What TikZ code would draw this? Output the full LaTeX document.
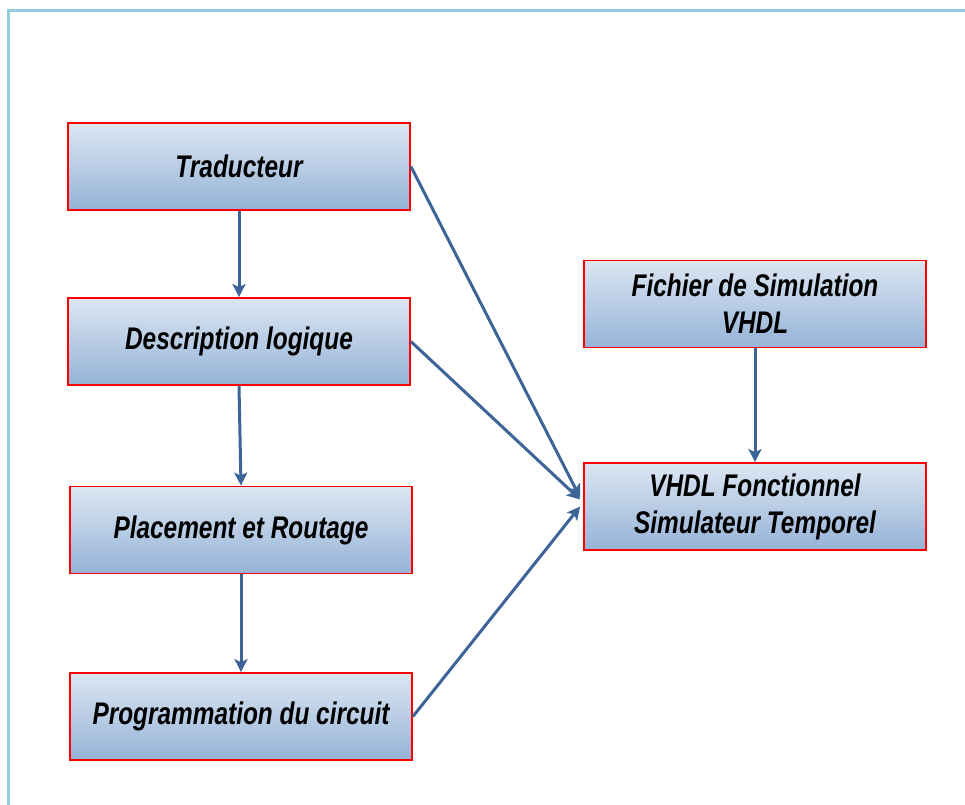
\documentclass[tikz,border=0pt]{standalone}
\usepackage{fontspec}
\setmainfont{Liberation Sans}[FakeStretch=0.78]
\usepackage{tikz}
\usetikzlibrary{arrows.meta}

\definecolor{cadre}{RGB}{146,205,221}
\definecolor{haut}{RGB}{220,230,242}
\definecolor{bas}{RGB}{149,179,215}
\definecolor{trait}{RGB}{60,100,150}

\tikzset{
  bloc/.style={draw=red, line width=0.9bp, top color=haut, bottom color=bas,
    minimum width=171bp, minimum height=43.5bp, align=center, inner sep=0pt,
    font=\fontsize{15.7}{18.5}\selectfont\bfseries\itshape},
  fleche/.style={draw=trait, line width=1.5bp,
    -{Stealth[length=6.5bp, width=6.5bp, inset=1.5bp]}}
}

\begin{document}
\begin{tikzpicture}[x=0.5bp, y=-0.5bp]
	\useasboundingbox (0,0) rectangle (965,805);
	\draw[cadre, line width=1.5bp] (8,805) -- (8,10) -- (965,10);

	\node[bloc] (trad) at (239,166.5) {Traducteur};
	\node[bloc] (desc) at (239,341.5) {Description logique};
	\node[bloc] (place) at (241,530) {Placement et Routage};
	\node[bloc] (prog) at (241,716.5) {Programmation du circuit};

	\node[bloc] (fich) at (755,304) {Fichier de Simulation\\VHDL};
	\node[bloc] (vhdl) at (755,506.5) {VHDL Fonctionnel\\Simulateur Temporel};

	\draw[fleche] (trad.south) -- (desc.north);
	\draw[fleche] (desc.south) -- (place.north);
	\draw[fleche] (place.south) -- (prog.north);
	\draw[fleche] (fich.south) -- (vhdl.north);

	\draw[fleche] (trad.east) -- ([shift={(-3,-9)}]vhdl.west);
	\draw[fleche] (desc.east) -- ([shift={(-3,-7)}]vhdl.west);
	\draw[fleche] (prog.east) -- ([shift={(-3,0)}]vhdl.west);
\end{tikzpicture}
\end{document}
